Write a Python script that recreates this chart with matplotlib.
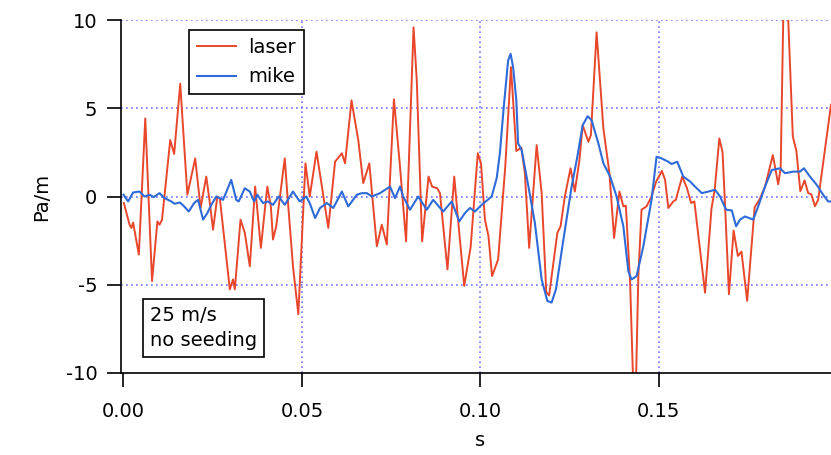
import matplotlib
matplotlib.use("Agg")
from matplotlib import pyplot as plt

# laser signal (s, Pa/m)
laser_t = [0.0001, 0.0017, 0.0022, 0.0027, 0.0043, 0.0061, 0.0080, 0.0095, 0.0101, 0.0108,
           0.0131, 0.0142, 0.0159, 0.0179, 0.0201, 0.0216, 0.0232, 0.0242, 0.0251, 0.0263,
           0.0270, 0.0298, 0.0307, 0.0312, 0.0328, 0.0340, 0.0354, 0.0369, 0.0385, 0.0403,
           0.0413, 0.0419, 0.0428, 0.0452, 0.0459, 0.0475, 0.0490, 0.0510, 0.0522, 0.0541,
           0.0574, 0.0593, 0.0612, 0.0621, 0.0639, 0.0658, 0.0672, 0.0689, 0.0710, 0.0724,
           0.0738, 0.0758, 0.0775, 0.0792, 0.0813, 0.0822, 0.0837, 0.0855, 0.0865, 0.0879,
           0.0887, 0.0908, 0.0927, 0.0936, 0.0955, 0.0973, 0.0993, 0.1002, 0.1013, 0.1023,
           0.1033, 0.1050, 0.1070, 0.1086, 0.1101, 0.1115, 0.1125, 0.1137, 0.1158, 0.1172,
           0.1185, 0.1193, 0.1216, 0.1225, 0.1237, 0.1253, 0.1265, 0.1278, 0.1287, 0.1303,
           0.1310, 0.1326, 0.1345, 0.1362, 0.1375, 0.1390, 0.1401, 0.1408, 0.1420, 0.1429,
           0.1436, 0.1443, 0.1452, 0.1466, 0.1480, 0.1493, 0.1509, 0.1518, 0.1527, 0.1541,
           0.1548, 0.1566, 0.1579, 0.1591, 0.1600, 0.1630, 0.1648, 0.1657, 0.1670, 0.1679,
           0.1686, 0.1697, 0.1710, 0.1722, 0.1732, 0.1748, 0.1769, 0.1783, 0.1798, 0.1811,
           0.1820, 0.1830, 0.1835, 0.1842, 0.1850, 0.1861, 0.1876, 0.1886, 0.1897, 0.1909,
           0.1919, 0.1928, 0.1938, 0.1947, 0.1959, 0.1970, 0.1983]
laser_v = [-0.37, -1.60, -1.78, -1.48, -3.29, 4.42, -4.79, -1.41, -1.60, -1.31,
           3.20, 2.41, 6.39, 0.10, 2.16, -0.65, 1.13, -0.36, -1.88, 0.00,
           -0.10, -5.26, -4.70, -5.26, -1.31, -2.06, -3.95, 0.56, -2.91, 0.56,
           -0.56, -2.44, -1.69, 2.16, 0.19, -3.95, -6.67, 1.88, 0.00, 2.54,
           -1.78, 1.97, 2.45, 1.88, 5.45, 3.20, 0.76, 1.88, -2.82, -1.60,
           -2.72, 5.51, 1.69, -2.54, 9.58, 6.58, -2.54, 1.13, 0.56, 0.47,
           0.19, -4.13, 1.13, -0.94, -5.07, -2.86, 2.45, 1.88, -1.31, -2.25,
           -4.51, -3.57, 1.69, 7.33, 2.58, 2.77, 1.32, -2.91, 2.91, 0.19,
           -5.43, -5.60, -2.06, -1.69, 0.00, 1.60, 0.28, 2.07, 4.04, 3.10,
           3.48, 9.30, 3.86, 1.32, -2.35, 0.28, -0.56, -0.52, -4.88, -10.9,
           -10.9, -4.51, -0.75, -0.56, 0.00, 0.85, 1.45, 0.94, -0.65, -0.28,
           -0.19, 1.13, 0.49, -0.37, -0.28, -5.45, -0.69, 0.38, 3.29, 2.52,
           -0.47, -5.54, -1.93, -3.37, -3.12, -5.91, -0.61, -0.16, 0.55, 1.62,
           2.35, 1.22, 0.69, 1.62, 11.1, 11.1, 3.40, 2.58, 0.30, 0.91,
           0.20, 0.12, -0.55, -0.19, 1.62, 3.31, 5.20]

# microphone signal (s, Pa/m)
mike_t = [0.0000, 0.0013, 0.0027, 0.0045, 0.0059, 0.0073, 0.0085, 0.0101, 0.0115, 0.0134,
          0.0143, 0.0158, 0.0170, 0.0183, 0.0198, 0.0209, 0.0223, 0.0235, 0.0246, 0.0260,
          0.0279, 0.0302, 0.0316, 0.0323, 0.0340, 0.0354, 0.0366, 0.0375, 0.0391, 0.0405,
          0.0419, 0.0435, 0.0452, 0.0475, 0.0494, 0.0512, 0.0522, 0.0537, 0.0551, 0.0570,
          0.0588, 0.0612, 0.0630, 0.0654, 0.0668, 0.0682, 0.0696, 0.0719, 0.0747, 0.0761,
          0.0775, 0.0784, 0.0803, 0.0826, 0.0850, 0.0868, 0.0896, 0.0920, 0.0941, 0.0957,
          0.0971, 0.0985, 0.1004, 0.1032, 0.1046, 0.1055, 0.1065, 0.1078, 0.1085, 0.1092,
          0.1101, 0.1106, 0.1116, 0.1135, 0.1153, 0.1172, 0.1188, 0.1200, 0.1212, 0.1233,
          0.1256, 0.1272, 0.1287, 0.1301, 0.1312, 0.1331, 0.1345, 0.1364, 0.1382, 0.1401,
          0.1415, 0.1424, 0.1438, 0.1457, 0.1480, 0.1494, 0.1508, 0.1527, 0.1536, 0.1552,
          0.1569, 0.1588, 0.1602, 0.1621, 0.1639, 0.1658, 0.1672, 0.1689, 0.1705, 0.1717,
          0.1728, 0.1742, 0.1765, 0.1779, 0.1798, 0.1817, 0.1840, 0.1854, 0.1877, 0.1896,
          0.1907, 0.1924, 0.1943, 0.1961, 0.1975, 0.1983]
mike_v = [0.10, -0.28, 0.23, 0.28, 0.00, 0.10, -0.03, 0.19, -0.09, -0.28,
          -0.41, -0.34, -0.56, -0.85, -0.37, -0.19, -1.31, -0.94, -0.47, 0.00,
          -0.19, 0.94, -0.19, -0.28, 0.47, 0.28, -0.28, 0.10, -0.37, -0.28,
          -0.47, 0.00, -0.47, 0.28, -0.28, 0.00, -0.37, -1.22, -0.65, -0.37,
          -0.65, 0.28, -0.56, 0.10, 0.19, 0.19, 0.00, 0.19, 0.56, -0.09,
          0.56, 0.00, -0.75, 0.00, -0.75, -0.19, -0.85, -0.28, -1.41, -0.94,
          -0.65, -0.85, -0.47, 0.00, 1.04, 2.46, 4.89, 7.71, 8.08, 7.33,
          5.45, 3.01, 2.63, 0.56, -1.50, -4.70, -5.92, -6.01, -5.26, -2.44,
          0.56, 2.25, 4.04, 4.55, 4.32, 3.01, 1.88, 1.13, 0.00, -1.69,
          -4.23, -4.70, -4.51, -2.82, -0.19, 2.25, 2.16, 1.97, 1.84, 1.97,
          1.13, 0.85, 0.56, 0.19, 0.28, 0.38, 0.00, -0.75, -0.79, -1.69,
          -1.31, -1.13, -1.31, -0.56, 0.56, 1.50, 1.60, 1.32, 1.41, 1.41,
          1.60, 1.13, 0.66, 0.10, -0.28, -0.28]

x_ticks = [0.00, 0.05, 0.10, 0.15]
y_ticks = [-10, -5, 0, 5, 10]

plt.rcParams['font.family'] = ['DejaVu Sans']
plt.rcParams['axes.unicode_minus'] = False

fig = plt.figure(figsize=(8.31, 4.55), dpi=100)
ax = fig.add_axes([121/831, 1 - 373/455, 710/831, 353/455])

ax.plot(laser_t, laser_v, color='#e8472c', lw=1.4, label='laser')
ax.plot(mike_t, mike_v, color='#2f6bd8', lw=1.5, label='mike')

ax.set_xlim(-0.0007, 0.1983)
ax.set_ylim(-10, 10)
ax.set_xticks(x_ticks)
ax.set_xticklabels(['%.2f' % t for t in x_ticks])
ax.set_yticks(y_ticks)

grid_style = dict(color='#7373ff', lw=1.2, ls=(0, (1, 2.0)), zorder=0)
for t in x_ticks[1:]:
    ax.axvline(t, **grid_style)
for v in y_ticks[1:]:
    ax.axhline(v, **grid_style)

for side in ['top', 'right']:
    ax.spines[side].set_visible(False)
for side in ['left', 'bottom']:
    ax.spines[side].set_linewidth(1.2)

ax.tick_params(axis='both', direction='out', length=10, width=1.2, labelsize=14)
ax.tick_params(axis='y', pad=7)
ax.tick_params(axis='x', pad=11)

ax.set_xlabel('s', fontsize=14)
ax.set_ylabel('Pa/m', fontsize=14)
ax.xaxis.set_label_coords(0.505, -0.165)
ax.yaxis.set_label_coords(-0.098, 0.5)

leg = ax.legend(loc='upper left', bbox_to_anchor=(0.096, 0.972), fontsize=14,
                fancybox=False, framealpha=1, edgecolor='black',
                borderaxespad=0, handlelength=2.0, borderpad=0.4,
                labelspacing=0.55, handletextpad=0.65)
leg.get_frame().set_linewidth(1.2)

ax.text(0.041, 0.065, '25 m/s\nno seeding', transform=ax.transAxes,
        fontsize=14, va='bottom', ha='left', linespacing=1.4,
        bbox=dict(boxstyle='square,pad=0.35', fc='white', ec='black', lw=1.2))

plt.savefig('out.png', dpi=100)
